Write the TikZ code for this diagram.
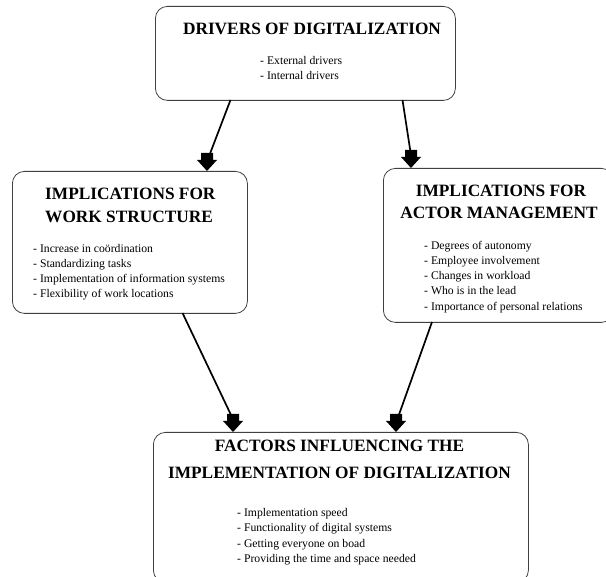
\documentclass[tikz,border=0pt]{standalone}
\usepackage{fontspec}
\setmainfont{Liberation Serif}
\begin{document}
\begin{tikzpicture}[x=1pt,y=-1pt,
  box/.style={draw=black!75, line width=0.8pt, rounded corners=12pt, inner sep=0pt},
  ttl/.style={font=\fontsize{17.3}{20}\selectfont\bfseries, inner sep=0pt, anchor=base},
  ttlw/.style={font=\fontsize{17.3}{20}\selectfont\bfseries, inner sep=0pt, anchor=base west},
  itm/.style={font=\fontsize{11.7}{14}\selectfont, inner sep=0pt, anchor=base west},
  conn/.style={line width=1.7pt},
  bhead/.pic={\fill[black] (-6,-18) -- (6,-18) -- (6,-11) -- (10,-11) -- (0,0) -- (-10,-11) -- (-6,-11) -- cycle;}
]
\useasboundingbox (0,0) rectangle (606,577);
\begin{scope}
\clip (0,0) rectangle (606,577);
% boxes
\node[box, minimum width=300pt, minimum height=94pt, anchor=north west] (drv) at (155,6) {};
\node[box, minimum width=235pt, minimum height=142pt, anchor=north west] (work) at (12,171) {};
\node[box, minimum width=230pt, minimum height=154pt, anchor=north west] (actor) at (383,168) {};
\node[box, minimum width=375pt, minimum height=150pt, anchor=north west] (fact) at (153,432) {};
\end{scope}

% top box texts
\node[ttl] (drvT) at (312,35) {DRIVERS OF DIGITALIZATION};
\node[itm] (drv1) at (260,65) {- External drivers};
\node[itm] (drv2) at (260,80) {- Internal drivers};

% left box texts
\node[ttlw] (workT1) at (45,200) {IMPLICATIONS FOR};
\node[ttlw] (workT2) at (45,222.5) {WORK STRUCTURE};
\node[itm] (work1) at (33,252.5) {- Increase in coördination};
\node[itm] (work2) at (33,267.5) {- Standardizing tasks};
\node[itm] (work3) at (33,282.5) {- Implementation of information systems};
\node[itm] (work4) at (33,297.5) {- Flexibility of work locations};

% right box texts
\node[ttl] (actorT1) at (501,196.5) {IMPLICATIONS FOR};
\node[ttl] (actorT2) at (499,218.5) {ACTOR MANAGEMENT};
\node[itm] (actor1) at (424,249.3) {- Degrees of autonomy};
\node[itm] (actor2) at (424,264.5) {- Employee involvement};
\node[itm] (actor3) at (424,279.7) {- Changes in workload};
\node[itm] (actor4) at (424,294.9) {- Who is in the lead};
\node[itm] (actor5) at (424,310.1) {- Importance of personal relations};

% bottom box texts
\node[ttl] (factT1) at (339.5,451.5) {FACTORS INFLUENCING THE};
\node[ttl] (factT2) at (339.5,478.3) {IMPLEMENTATION OF DIGITALIZATION};
\node[itm] (fact1) at (237,516.7) {- Implementation speed};
\node[itm] (fact2) at (237,532) {- Functionality of digital systems};
\node[itm] (fact3) at (237,547.3) {- Getting everyone on boad};
\node[itm] (fact4) at (237,562.6) {- Providing the time and space needed};

% connector endpoints
\coordinate (s1) at (230.5,100);
\coordinate (e1) at (209.5,155);
\coordinate (h1) at (207,171);
\coordinate (s2) at (402.5,100);
\coordinate (e2) at (410.5,152);
\coordinate (h2) at (411,168);
\coordinate (s3) at (182.5,313);
\coordinate (e3) at (231.5,416);
\coordinate (h3) at (233,432);
\coordinate (s4) at (432,322);
\coordinate (e4) at (398.5,416);
\coordinate (h4) at (396,432);

\draw[conn] (s1) -- (e1);
\draw[conn] (s2) -- (e2);
\draw[conn] (s3) -- (e3);
\draw[conn] (s4) -- (e4);
\pic at (h1) {bhead};
\pic at (h2) {bhead};
\pic at (h3) {bhead};
\pic at (h4) {bhead};
\end{tikzpicture}
\end{document}
